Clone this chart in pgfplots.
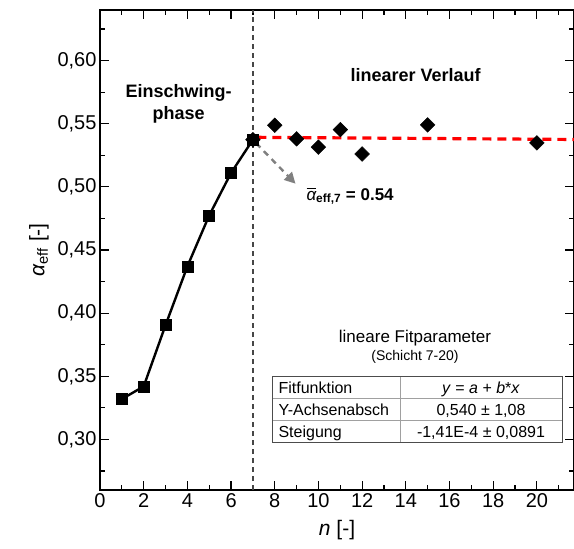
\documentclass[border=0pt]{standalone}
\usepackage{pgfplots}
\pgfplotsset{compat=1.18}
\usepackage{amsmath}
\usepackage{fontspec}
\setmainfont{Liberation Sans}
\usetikzlibrary{arrows.meta}

\definecolor{fitred}{RGB}{255,0,0}
\definecolor{vgray}{RGB}{70,70,70}
\definecolor{agray}{RGB}{128,128,128}
\definecolor{tabline}{RGB}{160,160,160}

\begin{document}
\begin{tikzpicture}
\begin{axis}[
    scale only axis,
    width=474pt,
    height=480pt,
    xmin=0, xmax=21.7,
    ymin=0.26, ymax=0.64,
    xtick={0,2,...,20},
    minor xtick={1,3,...,21},
    ytick={0.30,0.35,...,0.61},
    minor ytick={0.275,0.325,...,0.63},
    tick align=inside,
    tick style={draw=black, line width=1.2pt},
    major tick length=9pt,
    minor tick length=5pt,
    axis line style={line width=1.6pt},
    yticklabel={\pgfmathprintnumber[assume math mode=true, use comma, fixed, fixed zerofill, precision=2]{\tick}},
    xticklabel={\pgfmathprintnumber[assume math mode=true, fixed, precision=0]{\tick}},
    ticklabel style={font=\fontsize{20}{24}\selectfont},
    xlabel={\textit{n} [-]},
    ylabel={\textit{α}\textsubscript{eff} [-]},
    label style={font=\fontsize{21}{25}\selectfont},
    xlabel style={yshift=-6pt},
    ylabel style={yshift=2pt},
]
% Einschwingphase
\addplot[black, line width=2.4pt, mark=square*, mark size=5.5pt,
         mark options={solid, line width=0.5pt}]
coordinates {
(1,0.332)(2,0.342)(3,0.3905)(4,0.437)(5,0.4774)(6,0.511)(7,0.5373)
};
% linearer Verlauf
\addplot[only marks, black, mark=square*, mark size=5.2pt, mark options={rotate=45}]
coordinates {
(7,0.5373)(8,0.5487)(9,0.538)(10,0.5314)(11,0.5453)(12,0.526)(15,0.549)(20,0.5348)
};
% linearer Fit
\addplot[fitred, line width=3.2pt, dash pattern=on 9pt off 6pt, no marks]
coordinates {(7.2,0.5392)(21.7,0.5375)};
% Trennlinie
\addplot[vgray, line width=1.4pt, dash pattern=on 5pt off 4pt, no marks]
coordinates {(7,0.26)(7,0.64)};

\draw[agray, line width=2.4pt, dash pattern=on 6pt off 5pt, -{Triangle[length=11pt,width=11pt]}]
    (axis cs:7.15,0.5345) -- (axis cs:8.95,0.5025);

\node[font=\bfseries\fontsize{18}{22}\selectfont, align=center]
    at (axis cs:3.6,0.5656) {Einschwing-\\phase};
\node[font=\bfseries\fontsize{18}{21}\selectfont]
    at (axis cs:14.45,0.5885) {linearer Verlauf};
\node[font=\bfseries\fontsize{17}{20}\selectfont]
    at (axis cs:11.45,0.4927)
    {$\overline{\text{\mdseries\itshape α}}_{\text{\bfseries eff,7}}$ = 0.54};
\end{axis}

% Tabelle der Fitparameter (Pixelkoordinaten relativ zur Achse)
\begin{scope}[shift={(current axis.north west)}, x=1pt, y=-1pt]
  \node[font=\fontsize{17}{20}\selectfont] at (315,328) {lineare Fitparameter};
  \node[font=\fontsize{14}{17}\selectfont] at (315,347) {(Schicht 7-20)};
  \draw[tabline, line width=0.8pt] (172,388) -- (462,388);
  \draw[tabline, line width=0.8pt] (172,410) -- (462,410);
  \draw[tabline, line width=0.8pt] (300,366) -- (300,432);
  \draw[black!70, line width=1pt] (172,366) rectangle (462,432);
  \begin{scope}[every node/.style={font=\fontsize{16}{19}\selectfont, anchor=base west}]
    \node at (175,383) {Fitfunktion};
    \node at (175,405) {Y-Achsenabsch};
    \node at (175,427) {Steigung};
  \end{scope}
  \begin{scope}[every node/.style={font=\fontsize{16}{19}\selectfont, anchor=base}]
    \node at (381,383) {\textit{y} = \textit{a} + \textit{b}*\textit{x}};
    \node at (381,405) {0,540 ± 1,08};
    \node at (381,427) {-1,41E-4 ± 0,0891};
  \end{scope}
\end{scope}

\pgfresetboundingbox
\useasboundingbox ([shift={(-100pt,-58pt)}]current axis.south west)
    rectangle ([shift={(0pt,10pt)}]current axis.north east);
\end{tikzpicture}
\end{document}
